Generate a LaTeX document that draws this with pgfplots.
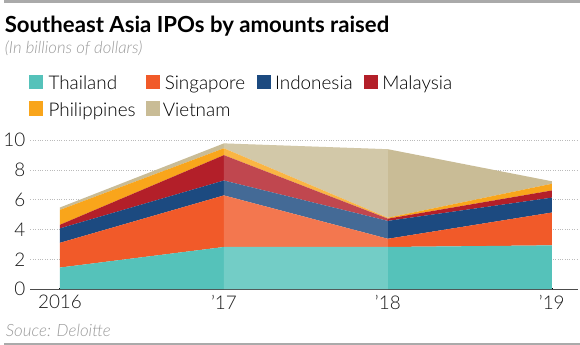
\documentclass[border=0pt]{standalone}
\usepackage{fontspec}
\setmainfont{Lato}
\newfontfamily\lightfont{Lato Light}
\usepackage{pgfplots}
\pgfplotsset{compat=1.18}
\definecolor{cT}{HTML}{55C2BA}
\definecolor{cS}{HTML}{F15A29}
\definecolor{cI}{HTML}{1C4A80}
\definecolor{cM}{HTML}{B31F29}
\definecolor{cP}{HTML}{F9A51B}
\definecolor{cV}{HTML}{C9BC96}
\definecolor{gridgray}{HTML}{BBBBBB}
\definecolor{txtgray}{HTML}{9A9A9A}
\definecolor{rulegray}{HTML}{AAAAAA}
\pgfplotsset{
  common/.style={
    scale only axis, width=551pt, height=150pt,
    at={(27pt,56pt)}, anchor=south west,
    xmin=-0.18, xmax=3.16, ymin=0, ymax=10,
  }
}
\begin{document}
\begin{tikzpicture}[x=1pt,y=1pt]
\path (0,0) rectangle (580,347);
\fill[rulegray] (0,344) rectangle (580,347);
\fill[rulegray] (0,0) rectangle (580,1.5);
\node[anchor=base west, inner sep=0pt, font=\fontsize{22.3}{24}\selectfont\bfseries] at (1,314) {Southeast Asia IPOs by amounts raised};
\node[anchor=base west, inner sep=0pt, text=txtgray, font=\fontsize{16.8}{18}\selectfont\lightfont\itshape] at (1,293) {(In billions of dollars)};
% legend
\begin{scope}[font=\fontsize{19}{20}\selectfont\lightfont]
\fill[cT] (26,257) rectangle (40,272);
\node[anchor=base west, inner sep=0pt] at (45,257) {Thailand};
\fill[cS] (143,257) rectangle (157,272);
\node[anchor=base west, inner sep=0pt] at (162,257) {Singapore};
\fill[cI] (255,257) rectangle (269,272);
\node[anchor=base west, inner sep=0pt] at (273,257) {Indonesia};
\fill[cM] (363,257) rectangle (377,272);
\node[anchor=base west, inner sep=0pt] at (381,257) {Malaysia};
\fill[cP] (26,230) rectangle (40,245);
\node[anchor=base west, inner sep=0pt] at (45,230) {Philippines};
\fill[cV] (143,230) rectangle (157,245);
\node[anchor=base west, inner sep=0pt] at (160,230) {Vietnam};
\end{scope}
\node[anchor=base west, inner sep=0pt, text=txtgray, font=\fontsize{17}{18}\selectfont\lightfont\itshape] at (2,8) {Souce: Deloitte};
\begin{axis}[common,
  stack plots=y,
  axis x line=bottom, axis y line=left,
  x axis line style={draw=black!70, line width=0.9pt, -},
  y axis line style={draw=none},
  ytick={0,2,4,6,8,10},
  ytick style={draw=none},
  xtick={0,1,2,3},
  xticklabels={2016,’17,’18,’19},
  xtick style={draw=black, line width=2.2pt},
  major tick length=1.5pt,
  tick align=center,
  ymajorgrids,
  grid style={gridgray, dotted, line width=0.8pt},
  yticklabel style={xshift=-1pt},
  xticklabel style={yshift=-2pt},
  tick label style={font=\fontsize{19}{19}\selectfont\lightfont, text=black!90},
  /pgf/number format/assume math mode=true,
]
\addplot[fill=cT, draw=none] coordinates {(0,1.45) (1,2.83) (2,2.83) (3,2.94)} \closedcycle;
\addplot[fill=cS, draw=none] coordinates {(0,1.66) (1,3.46) (2,0.55) (3,2.2)} \closedcycle;
\addplot[fill=cI, draw=none] coordinates {(0,0.97) (1,1.0) (2,1.2) (3,1.0)} \closedcycle;
\addplot[fill=cM, draw=none] coordinates {(0,0.24) (1,1.7) (2,0.15) (3,0.48)} \closedcycle;
\addplot[fill=cP, draw=none] coordinates {(0,1.0) (1,0.46) (2,0.06) (3,0.45)} \closedcycle;
\addplot[fill=cV, draw=none] coordinates {(0,0.16) (1,0.33) (2,4.6) (3,0.17)} \closedcycle;
\end{axis}
\begin{axis}[common, hide axis]
\addplot[fill=white, fill opacity=0.18, draw=none] coordinates {(1,9.78) (2,9.39)} \closedcycle;
\end{axis}
\end{tikzpicture}
\end{document}
